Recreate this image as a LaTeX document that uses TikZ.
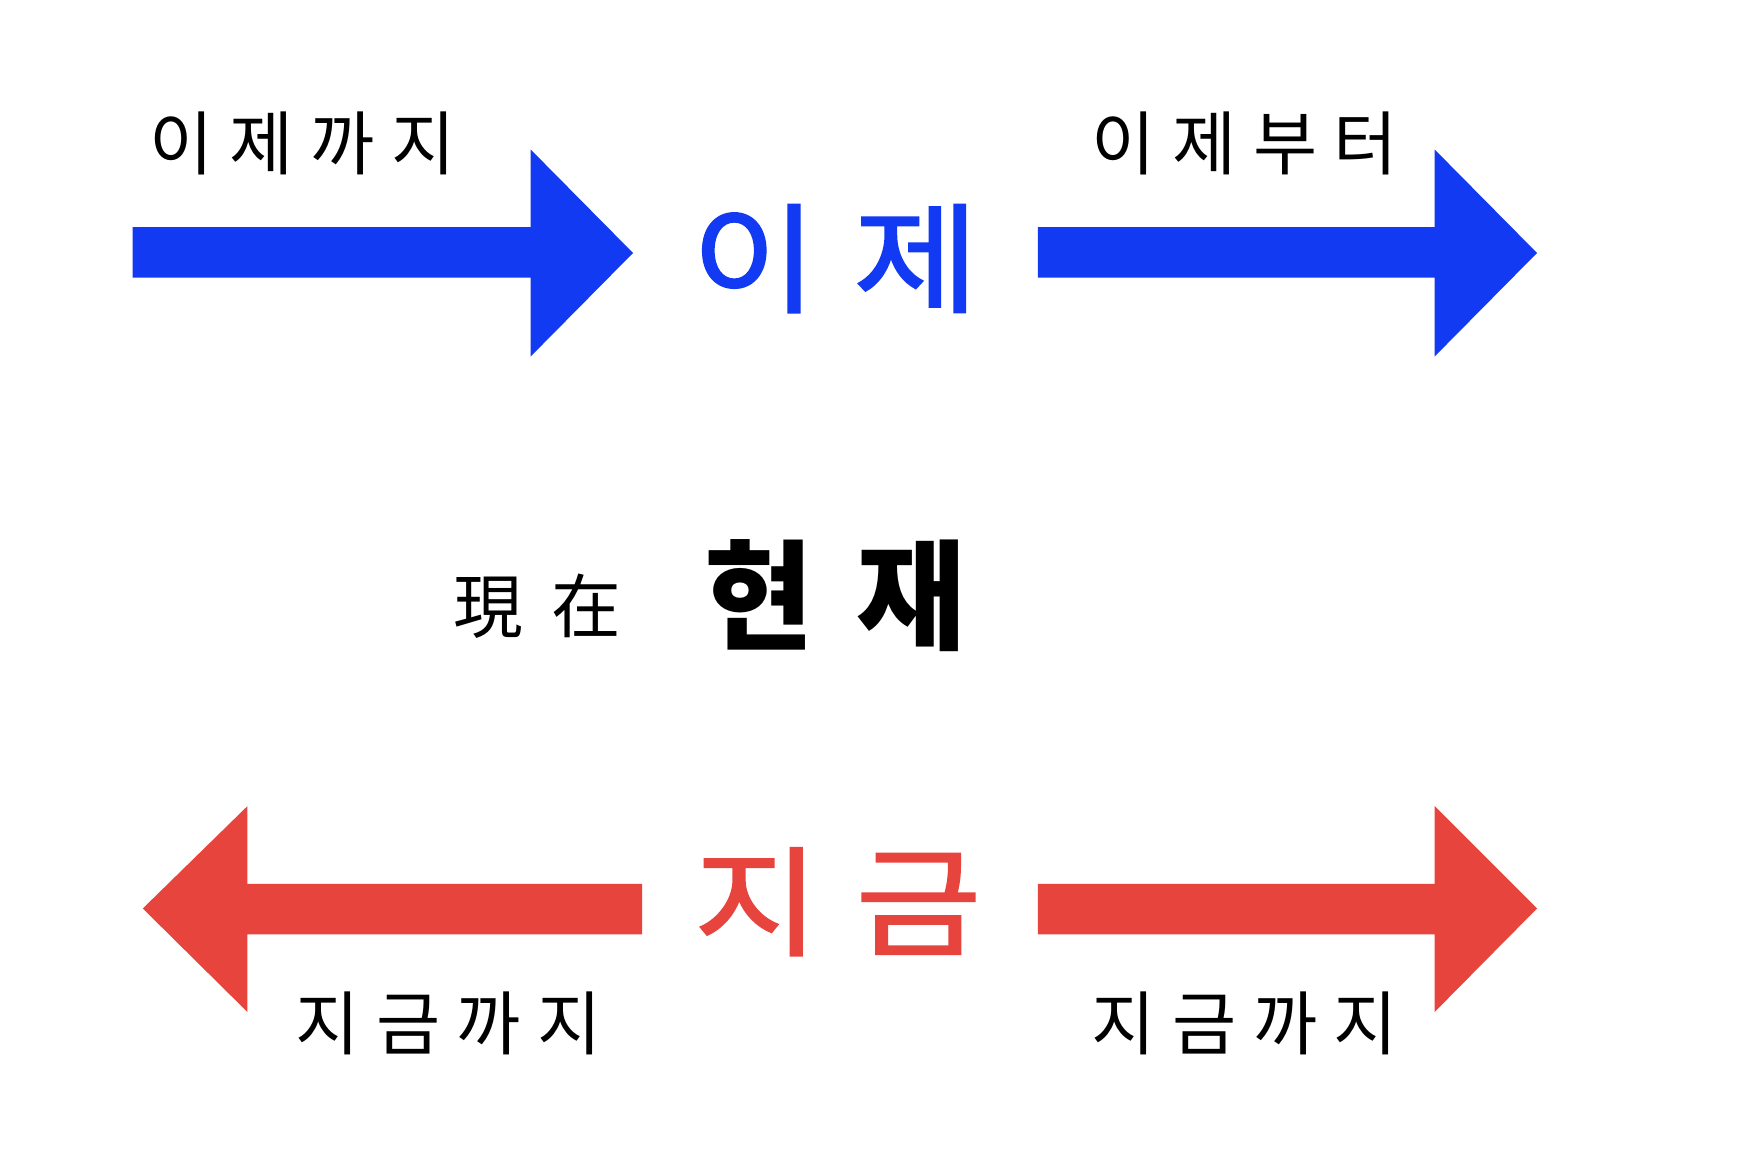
\documentclass[tikz,border=0pt]{standalone}
\usepackage{fontspec}
\setmainfont{Noto Sans CJK KR}
\newfontfamily\capfont[LetterSpace=24]{Noto Sans CJK KR}
\newfontfamily\bigfont[FakeStretch=1.15,FakeBold=1.5]{Noto Sans CJK KR}
\definecolor{nowblue}{RGB}{18,58,242}
\definecolor{nowred}{RGB}{232,68,62}

\begin{document}
\begin{tikzpicture}[x=0.5pt,y=-0.5pt]
\tikzstyle{caption}=[inner sep=0pt,font=\fontsize{31}{31}\capfont]
\tikzstyle{bigword}=[inner sep=0pt,font=\fontsize{53}{53}\bigfont]
\tikzstyle{fatarrow}=[draw=none]
\useasboundingbox (0,0) rectangle (1568,1023);
\fill[white] (0,0) rectangle (1568,1023);
% top row: ije
\fill[fatarrow,nowblue] (118,202) -- (472,202) -- (472,133) -- (563,225) -- (472,317) -- (472,247) -- (118,247) -- cycle;
\fill[fatarrow,nowblue] (923,202) -- (1276,202) -- (1276,133) -- (1367,225) -- (1276,317) -- (1276,247) -- (923,247) -- cycle;
\node[caption] (untilnow) at (269,128) {이제까지};
\node[caption] (fromnow) at (1107,128) {이제부터};
\node[bigword,text=nowblue] (ije) at (743,230) {이\hspace{0.3em}제};
% middle row: hyeonjae
\node[caption,font=\fontsize{31}{31}\selectfont] (hanja) at (478,539) {現\hspace{0.4em}在};
\node[bigword,font=\fontsize{53}{53}\selectfont\bfseries] (hyeonjae) at (743,530) {현\hspace{0.35em}재};
% bottom row: jigeum
\fill[fatarrow,nowred] (571,786) -- (220,786) -- (220,717) -- (127,808) -- (220,900) -- (220,831) -- (571,831) -- cycle;
\fill[fatarrow,nowred] (923,786) -- (1276,786) -- (1276,717) -- (1367,808) -- (1276,900) -- (1276,831) -- (923,831) -- cycle;
\node[bigword,text=nowred] (jigeum) at (745,802) {지\hspace{0.3em}금};
\node[caption] (sofarleft) at (399,910) {지금까지};
\node[caption] (sofarright) at (1107,910) {지금까지};
\end{tikzpicture}
\end{document}
